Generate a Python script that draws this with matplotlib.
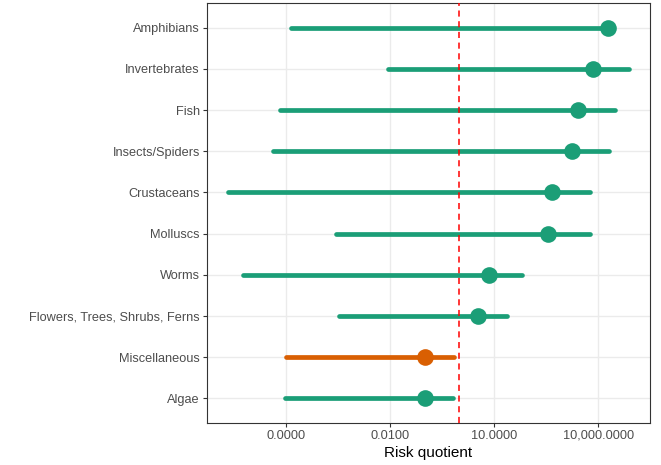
#!/usr/bin/env python3
"""Risk quotient ranges per taxon group, log scale pointrange chart."""

import matplotlib

matplotlib.use("Agg")
import matplotlib.pyplot as plt

OUT_PNG = "out.png"

# bottom to top, as drawn
CATEGORIES = [
    "Algae",
    "Miscellaneous",
    "Flowers, Trees, Shrubs, Ferns",
    "Worms",
    "Molluscs",
    "Crustaceans",
    "Insects/Spiders",
    "Fish",
    "Invertebrates",
    "Amphibians",
]
LOWER = [9.5e-6, 1.0e-5, 3.3e-4, 5.6e-7, 2.8e-4, 2.1e-7, 4.3e-6, 6.9e-6, 8.7e-3, 1.4e-5]
ESTIMATE = [0.10, 0.10, 3.5, 7.2, 360, 470, 1800, 2600, 6900, 19500]
UPPER = [0.66, 0.69, 24, 65, 5800, 6000, 2.0e4, 3.1e4, 8.0e4, 1.9e4]
HIGHLIGHT = ["no", "yes", "no", "no", "no", "no", "no", "no", "no", "no"]

THRESHOLD = 1.0
TICK_VALUES = [1e-5, 1e-2, 1e1, 1e4]
TICK_LABELS = ["0.0000", "0.0100", "10.0000", "10,000.0000"]

GREEN = "#1b9e77"
ORANGE = "#d95f02"


def plot() -> None:
    plt.rcParams["font.family"] = ["Liberation Sans", "DejaVu Sans"]
    fig = plt.figure(figsize=(6.61, 4.65), dpi=100)
    ax = fig.add_axes([0.313, 0.0903, 0.670, 0.9032])

    ax.set_xscale("log")
    ax.set_xlim(10 ** -7.28, 10 ** 5.49)
    ax.set_ylim(-0.6, len(CATEGORIES) - 0.4)

    ax.set_axisbelow(True)
    for v in TICK_VALUES:
        ax.axvline(v, color="#ebebeb", linewidth=1.0, zorder=0)
    for i in range(len(CATEGORIES)):
        ax.axhline(i, color="#ebebeb", linewidth=1.0, zorder=0)

    for i, cat in enumerate(CATEGORIES):
        color = ORANGE if HIGHLIGHT[i] == "yes" else GREEN
        ax.plot([LOWER[i], UPPER[i]], [i, i], color=color, linewidth=3.4,
                solid_capstyle="round", zorder=2)
        ax.plot([ESTIMATE[i]], [i], "o", color=color, markersize=12,
                markeredgewidth=0, zorder=3)

    ax.axvline(THRESHOLD, color="red", linewidth=1.1, linestyle=(0, (4, 3)), zorder=4)

    ax.set_yticks(range(len(CATEGORIES)))
    ax.set_yticklabels(CATEGORIES)
    ax.set_xticks(TICK_VALUES)
    ax.set_xticklabels(TICK_LABELS)
    ax.minorticks_off()
    ax.tick_params(axis="both", colors="#333333", length=3, width=0.8,
                   labelsize=9.2, labelcolor="#4d4d4d", pad=2)
    ax.set_xlabel("Risk quotient", fontsize=11, color="black", labelpad=3)

    for spine in ax.spines.values():
        spine.set_color("#333333")
        spine.set_linewidth(0.8)

    fig.savefig(OUT_PNG, dpi=100)
    plt.close(fig)


def main() -> None:
    plot()
    print(f"Wrote {OUT_PNG}")


if __name__ == "__main__":
    main()
